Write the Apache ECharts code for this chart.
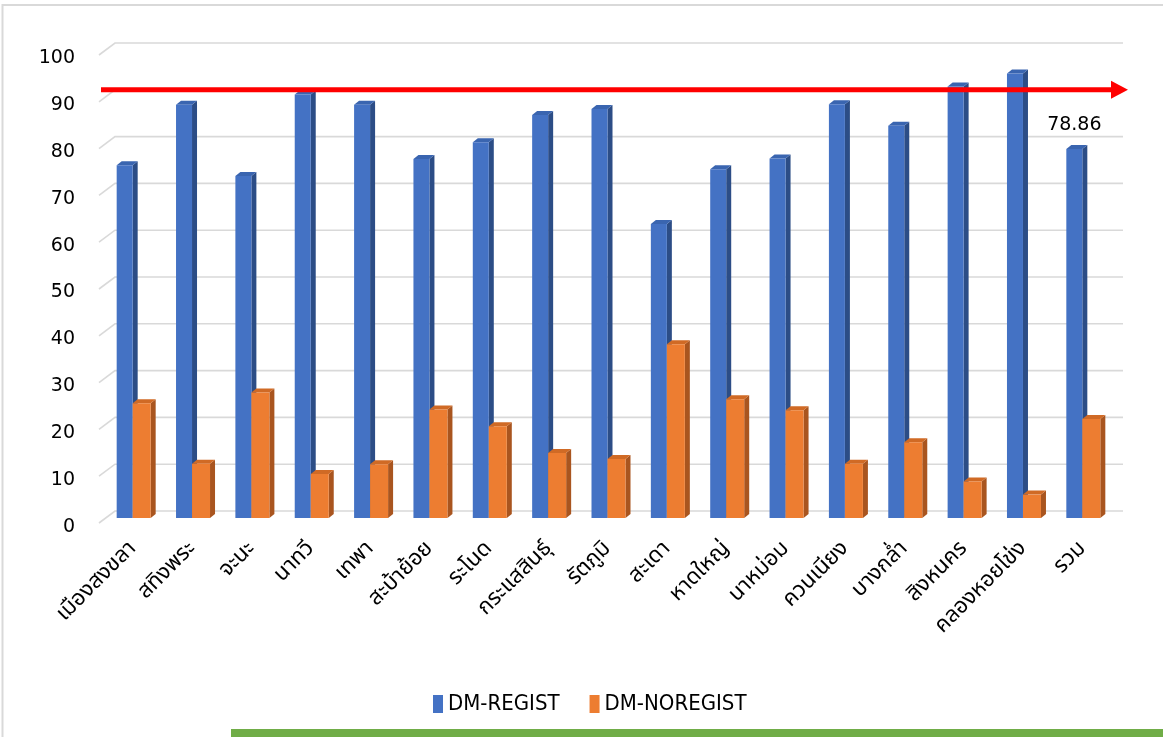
<!DOCTYPE html>
<html>
<head>
<meta charset="utf-8">
<script src="https://cdn.jsdelivr.net/npm/echarts@6/dist/echarts.min.js"></script>
<style>
  html, body { margin: 0; padding: 0; background: #ffffff; }
  #chart { width: 1163px; height: 737px; }
</style>
</head>
<body>
<div id="chart"></div>
<script>
// Districts of Songkhla plus the provincial total
const districts = ['เมืองสงขลา', 'สทิงพระ', 'จะนะ', 'นาทวี', 'เทพา', 'สะบ้าย้อย', 'ระโนด', 'กระแสสินธุ์', 'รัตภูมิ', 'สะเดา', 'หาดใหญ่', 'นาหม่อม', 'ควนเนียง', 'บางกล่ำ', 'สิงหนคร', 'คลองหอยโข่ง', 'รวม'];
// Percentage of diabetes patients registered / not registered
const dmRegist = [75.4, 88.3, 73.1, 90.5, 88.3, 76.7, 80.3, 86.1, 87.4, 62.8, 74.5, 76.8, 88.4, 83.8, 92.2, 95.0, 78.86];
const dmNoRegist = [24.5, 11.6, 26.8, 9.4, 11.5, 23.2, 19.6, 13.9, 12.6, 37.1, 25.4, 23.0, 11.6, 16.2, 7.8, 5.0, 21.14];
// Value axis ticks and the target level
const yTicks = [0, 10, 20, 30, 40, 50, 60, 70, 80, 90, 100];
const targetLevel = [90];
// Category whose registered value is printed above its bar
const labelledDistrict = 'รวม';

const thaiFont = "Tahoma, 'Noto Sans Thai', 'Loma', 'Garuda', 'Waree', 'DejaVu Sans', sans-serif";

// Column with a front face, a darker right side and a thin top face
function column3d(colors, offset, width, labelIndex) {
  return function (params, api) {
    const i = api.value(0);
    const v = api.value(1);
    const base = api.coord([i, 0]);
    const top = api.coord([i, v]);
    const x0 = base[0] + offset;
    const x1 = x0 + width;
    const yb = base[1];
    const yt = top[1];
    const dx = 5, dy = 4;
    const children = [
      { type: 'polygon', shape: { points: [[x1, yb], [x1 + dx, yb - dy], [x1 + dx, yt - dy], [x1, yt]] }, style: { fill: colors.side } },
      { type: 'polygon', shape: { points: [[x0, yt], [x0 + dx, yt - dy], [x1 + dx, yt - dy], [x1, yt]] }, style: { fill: colors.top } },
      { type: 'rect', shape: { x: x0, y: yt, width: width, height: yb - yt }, style: { fill: colors.front } }
    ];
    if (i === labelIndex) {
      children.push({
        type: 'text',
        style: {
          text: String(v),
          x: (x0 + x1) / 2,
          y: yt - 14,
          align: 'center',
          verticalAlign: 'bottom',
          fill: '#000000',
          font: "19px 'DejaVu Sans', sans-serif"
        }
      });
    }
    return { type: 'group', children: children };
  };
}

const labelIdx = districts.indexOf(labelledDistrict);
const blue = { front: '#4472C4', side: '#2C4D86', top: '#3A65B0' };
const orange = { front: '#ED7D31', side: '#A9551F', top: '#D06A25' };

const chart = echarts.init(document.getElementById('chart'), null, { renderer: 'canvas' });

chart.setOption({
  animation: false,
  backgroundColor: '#ffffff',
  graphic: [
    { type: 'rect', shape: { x: 2.5, y: 5, width: 1170, height: 740 }, style: { fill: 'none', stroke: '#D9D9D9', lineWidth: 2 }, z: 0 },
    { type: 'rect', shape: { x: 231, y: 729, width: 932, height: 8 }, style: { fill: '#70AD47' }, z: 1 }
  ],
  legend: {
    data: ['DM-REGIST', 'DM-NOREGIST'],
    left: 428,
    top: 688,
    itemWidth: 10,
    itemHeight: 18,
    itemGap: 30,
    icon: 'rect',
    textStyle: { fontFamily: "'Liberation Sans Narrow', 'DejaVu Sans Condensed', sans-serif", fontSize: 22, color: '#000000' }
  },
  grid: [
    // columns (front plane)
    { left: 104, right: 50, top: 50, bottom: 219 },
    // back wall: gridlines and target arrow
    { left: 115, right: 40, top: 43, bottom: 226 },
    // value labels
    { left: 85, right: 40, top: 58, bottom: 210 }
  ],
  xAxis: [
    {
      type: 'category', gridIndex: 0, data: districts,
      axisLine: { show: false }, axisTick: { show: false },
      axisLabel: { interval: 0, rotate: 45, margin: 28, fontSize: 22, color: '#000000', fontFamily: thaiFont }
    },
    { type: 'value', gridIndex: 1, min: 0, max: 1, show: false },
    { type: 'value', gridIndex: 2, min: 0, max: 1, show: false }
  ],
  yAxis: [
    { type: 'value', gridIndex: 0, min: 0, max: 100, interval: 10, show: false },
    { type: 'value', gridIndex: 1, min: 0, max: 100, interval: 10, show: false },
    {
      type: 'value', gridIndex: 2, min: 0, max: 100, interval: 10,
      axisLine: { show: false }, axisTick: { show: false }, splitLine: { show: false },
      axisLabel: { margin: 10, fontSize: 19, color: '#000000', fontFamily: "'DejaVu Sans', sans-serif" }
    }
  ],
  series: [
    {
      name: 'gridlines', type: 'custom', xAxisIndex: 1, yAxisIndex: 1, silent: true, z: 1,
      data: yTicks.map(t => [0, t]),
      renderItem: function (params, api) {
        const p = api.coord([0, api.value(1)]);
        const q = api.coord([1, api.value(1)]);
        return {
          type: 'polyline',
          shape: { points: [[p[0] - 16, p[1] + 12], p, q] },
          style: { stroke: '#D9D9D9', lineWidth: 1.6, fill: 'none' }
        };
      }
    },
    {
      name: 'DM-REGIST', type: 'custom', xAxisIndex: 0, yAxisIndex: 0, z: 3,
      itemStyle: { color: blue.front },
      encode: { x: 0, y: 1 },
      data: dmRegist.map((v, i) => [i, v]),
      renderItem: column3d(blue, -17, 16, labelIdx)
    },
    {
      name: 'DM-NOREGIST', type: 'custom', xAxisIndex: 0, yAxisIndex: 0, z: 4,
      itemStyle: { color: orange.front },
      encode: { x: 0, y: 1 },
      data: dmNoRegist.map((v, i) => [i, v]),
      renderItem: column3d(orange, -1, 18, -1)
    },
    {
      name: 'target', type: 'custom', xAxisIndex: 1, yAxisIndex: 1, silent: true, z: 6,
      data: targetLevel.map(t => [0, t]),
      renderItem: function (params, api) {
        const p = api.coord([0, api.value(1)]);
        const q = api.coord([1, api.value(1)]);
        const tip = q[0] + 5;
        return {
          type: 'group',
          children: [
            { type: 'line', shape: { x1: p[0] - 14, y1: p[1], x2: tip - 14, y2: p[1] }, style: { stroke: '#FF0000', lineWidth: 5 } },
            { type: 'polygon', shape: { points: [[tip - 17, p[1] - 9], [tip, p[1]], [tip - 17, p[1] + 9]] }, style: { fill: '#FF0000' } }
          ]
        };
      }
    }
  ]
});
</script>
</body>
</html>
